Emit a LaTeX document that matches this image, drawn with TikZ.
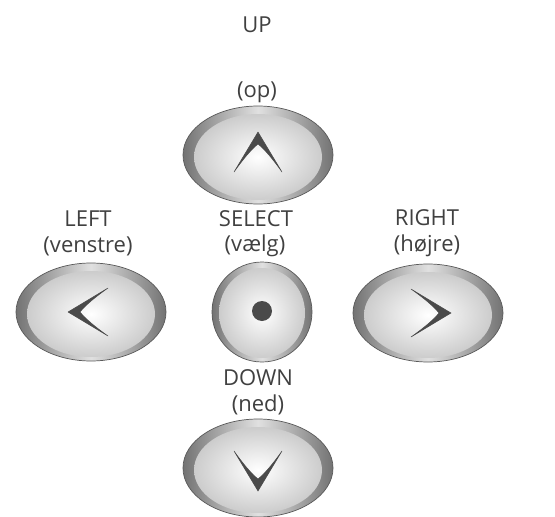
\documentclass[tikz,border=0pt]{standalone}
\usepackage{fontspec}
\setmainfont{Open Sans}
\usetikzlibrary{shapes.geometric}

\definecolor{txtgray}{HTML}{404040}
\definecolor{keygray}{HTML}{4A4A4A}

\tikzset{
  ring/.style={ellipse, inner sep=0pt, draw=black!65, line width=0.7pt,
    left color=black!55, right color=black!55, middle color=black!12},
  face/.style={ellipse, inner sep=0pt, inner color=white, outer color=black!20},
  lbl/.style={text=txtgray, inner sep=0pt, font=\fontsize{22}{26}\selectfont},
  chev/.style={fill=keygray, draw=keygray, line width=0.5pt, line join=round}
}

\begin{document}
\begin{tikzpicture}[x=1pt, y=-1pt]

  \useasboundingbox (0,0) rectangle (555,517);

  \def\rx{150};
  \def\ry{98};

	%draw keys
    \foreach \x/\y/\name in {258/155/up, 91/312/left, 428/313/right, 258/468/down}{
         \node[ring, minimum width=\rx, minimum height=\ry] (\name) at (\x,\y) {};
         \node[face, minimum width=\rx-22, minimum height=\ry-12] (\name face) at (\x,\y+2) {};
    }

    \node[ring, minimum width=100, minimum height=100] (sel) at (262,312) {};
    \node[face, minimum width=86, minimum height=90] (sel face) at (262,313) {};
    \node[circle, fill=keygray, inner sep=0pt, minimum size=20] (dot) at (262,311) {};

	%draw chevrons
    \foreach \name/\ang in {up/0, left/90, right/-90, down/180}{
         \begin{scope}[shift={(\name.center)}, rotate=\ang]
             \fill[chev] (0,-23) -- (24,17) .. controls (12,0) and (4,-8) .. (0,-11)
                         .. controls (-4,-8) and (-12,0) .. (-24,17) -- cycle;
         \end{scope}
    }

	%draw labels
    \foreach \x/\y/\txt/\name in {257/25/UP/upEN, 257/92/{(op)}/upDA,
                                   88/219/LEFT/leftEN, 88/246/{(venstre)}/leftDA,
                                   256/219/SELECT/selEN, 255/246/{(vælg)}/selDA,
                                   427/218/RIGHT/rightEN, 427/246/{(højre)}/rightDA,
                                   258/378/DOWN/downEN, 258/405/{(ned)}/downDA}{
         \node[lbl] (\name) at (\x,\y) {\txt};
    }

\end{tikzpicture}
\end{document}
